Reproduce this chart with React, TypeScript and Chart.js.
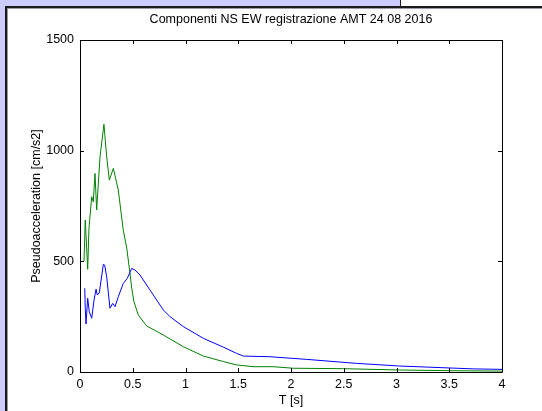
import React, { useEffect, useRef } from "react";
import { Chart, registerables } from "chart.js";

Chart.register(...registerables);

const titleText = "Componenti NS EW registrazione AMT 24 08 2016";
const xAxisTitle = "T [s]";
const yAxisTitle = "Pseudoacceleration [cm/s2]";

const xTickLabels = ["0", "0.5", "1", "1.5", "2", "2.5", "3", "3.5", "4"];
const yTickLabels = ["0", "500", "1000", "1500"];

const greenT = [0.038, 0.05, 0.073, 0.085, 0.111, 0.126, 0.142, 0.158, 0.19, 0.227, 0.253, 0.278, 0.316, 0.363, 0.41, 0.443, 0.47, 0.49, 0.51, 0.553, 0.632, 0.79, 0.98, 1.17, 1.36, 1.485, 1.64, 1.83, 2.02, 2.5, 3.03, 3.5, 4.0];
const greenA = [501, 687, 464, 649, 792, 769, 897, 732, 973, 1119, 973, 867, 920, 822, 641, 560, 460, 380, 320, 257, 208, 167, 114, 72, 47, 32, 24, 24, 17, 15, 9, 6, 4];

const blueT = [0.045, 0.05, 0.057, 0.073, 0.088, 0.111, 0.133, 0.152, 0.164, 0.183, 0.221, 0.234, 0.253, 0.284, 0.31, 0.332, 0.363, 0.41, 0.448, 0.49, 0.521, 0.569, 0.664, 0.79, 0.853, 0.98, 1.17, 1.36, 1.485, 1.55, 1.8, 2.15, 2.62, 3.03, 3.73, 4.0];
const blueA = [378, 288, 217, 333, 272, 243, 325, 374, 348, 358, 486, 483, 430, 288, 310, 295, 340, 400, 423, 468, 461, 438, 370, 280, 250, 205, 152, 112, 84, 72, 69, 57, 39, 27, 14, 12];

const FONT = "'Liberation Sans', Arial, Helvetica, sans-serif";
const FS = 12.5;

const boxTicks = {
  id: "boxTicks",
  afterDraw(chart: any) {
    const { ctx, chartArea: a, scales } = chart;
    ctx.save();
    ctx.strokeStyle = "#000";
    ctx.lineWidth = 1;
    ctx.beginPath();
    ctx.rect(Math.round(a.left) + 0.5, Math.round(a.top) + 0.5, Math.round(a.right - a.left), Math.round(a.bottom - a.top));
    const len = 4;
    scales.x.ticks.forEach((t: any) => {
      const px = Math.round(scales.x.getPixelForValue(t.value)) + 0.5;
      ctx.moveTo(px, a.bottom);
      ctx.lineTo(px, a.bottom - len);
      ctx.moveTo(px, a.top);
      ctx.lineTo(px, a.top + len);
    });
    scales.y.ticks.forEach((t: any) => {
      const py = Math.round(scales.y.getPixelForValue(t.value)) + 0.5;
      ctx.moveTo(a.left, py);
      ctx.lineTo(a.left + len, py);
      ctx.moveTo(a.right, py);
      ctx.lineTo(a.right - len, py);
    });
    ctx.stroke();
    ctx.restore();
  },
};

export default function App() {
  const ref = useRef<HTMLCanvasElement>(null);
  useEffect(() => {
    document.body.style.margin = "0";
    const canvas = ref.current!;
    const chart = new Chart(canvas, {
      type: "line",
      data: {
        datasets: [
          {
            label: "EW",
            data: blueT.map((t, i) => ({ x: t, y: blueA[i] })),
            borderColor: "#0000ff",
            borderWidth: 1,
            pointRadius: 0,
            tension: 0,
            fill: false,
          },
          {
            label: "NS",
            data: greenT.map((t, i) => ({ x: t, y: greenA[i] })),
            borderColor: "#008000",
            borderWidth: 1,
            pointRadius: 0,
            tension: 0,
            fill: false,
          },
        ],
      },
      options: {
        responsive: false,
        animation: false,
        devicePixelRatio: 1,
        layout: { padding: { left: 0, right: 40, top: 0, bottom: 0 } },
        plugins: {
          legend: { display: false },
          tooltip: { enabled: false },
          title: {
            display: true,
            fullSize: false,
            text: titleText,
            color: "#000",
            font: { family: FONT, size: FS, weight: "normal", lineHeight: 1.2 },
            padding: { top: 12, bottom: 13 },
          },
        },
        scales: {
          x: {
            type: "linear",
            min: 0,
            max: 4,
            afterFit: (s: any) => { s.height = 39; },
            ticks: {
              stepSize: 0.5,
              color: "#000",
              padding: 5,
              maxRotation: 0,
              font: { family: FONT, size: FS },
              callback: (v: any) => xTickLabels[Math.round(Number(v) / 0.5)] ?? "",
            },
            grid: { display: false, drawTicks: false },
            border: { display: false },
            title: {
              display: true,
              text: xAxisTitle,
              color: "#000",
              font: { family: FONT, size: FS, lineHeight: 1.2 },
              padding: { top: 0, bottom: 2.5 },
            },
          },
          y: {
            type: "linear",
            min: 0,
            max: 1500,
            afterFit: (s: any) => { s.width = 80; },
            ticks: {
              stepSize: 500,
              color: "#000",
              padding: 6,
              font: { family: FONT, size: FS },
              callback: (v: any) => yTickLabels[Math.round(Number(v) / 500)] ?? "",
            },
            grid: { display: false, drawTicks: false },
            border: { display: false },
            title: {
              display: true,
              text: yAxisTitle,
              color: "#000",
              font: { family: FONT, size: FS, lineHeight: 1.2 },
              padding: { top: 29.5, bottom: 0 },
            },
          },
        },
      },
      plugins: [boxTicks],
    });
    return () => chart.destroy();
  }, []);

  return (
    <div style={{ position: "fixed", left: 0, top: 0, width: 542, height: 411, overflow: "hidden", background: "#ccccff" }}>
      <div
        style={{
          position: "absolute",
          left: 5,
          top: 6,
          width: 600,
          height: 500,
          background: "#ffffff",
          borderLeft: "2px solid #1a1a1a",
          borderTop: "2px solid #1a1a1a",
          boxShadow: "inset 1px 1px 0 #9a9aa8",
        }}
      />
      <div
        style={{
          position: "absolute",
          left: 400,
          top: -10,
          width: 200,
          height: 16,
          background: "#ffffff",
          borderLeft: "1px solid #1a1a1a",
        }}
      />
      <canvas ref={ref} width={542} height={411} style={{ position: "absolute", left: 0, top: 0, width: 542, height: 411 }} />
    </div>
  );
}
